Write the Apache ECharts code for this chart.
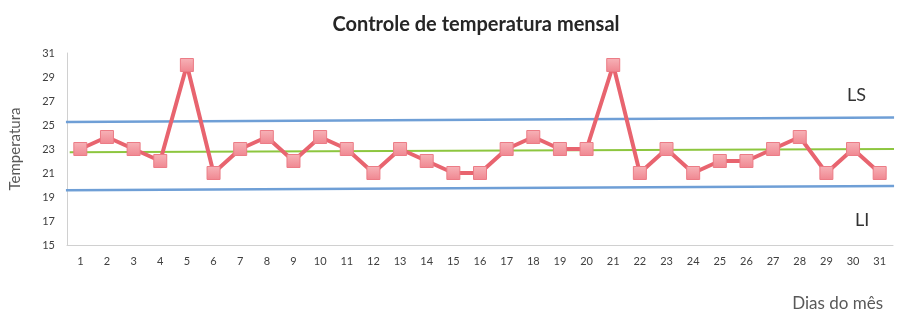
<!DOCTYPE html>
<html>
<head>
<meta charset="utf-8">
<script src="https://cdn.jsdelivr.net/npm/echarts@6/dist/echarts.min.js"></script>
<style>
  html, body { margin: 0; padding: 0; background: #fff; }
  #chart { width: 914px; height: 327px; }
</style>
</head>
<body>
<div id="chart"></div>
<script>
// Dias do mês
const dias = ['1','2','3','4','5','6','7','8','9','10','11','12','13','14','15','16',
  '17','18','19','20','21','22','23','24','25','26','27','28','29','30','31'];
// Temperatura diária
const temperaturas = [23,24,23,22,30,21,23,24,22,24,23,21,23,22,21,21,
  23,24,23,23,30,21,23,21,22,22,23,24,21,23,21];
// Limite superior (LS), média e limite inferior (LI): [dia, valor] nas pontas
const limiteSuperior = [[0.46, 25.26], [31.54, 25.62]];
const media = [[0.6, 22.72], [31.76, 23.0]];
const limiteInferior = [[0.46, 19.56], [31.54, 19.92]];
// Escala do eixo vertical
const yMin = 15, yMax = 31, yPasso = 2;

const chart = echarts.init(document.getElementById('chart'), null, { renderer: 'canvas' });
const font = 'Lato, "Open Sans", sans-serif';

const limiteSerie = (data, color, width) => ({
  type: 'line',
  xAxisIndex: 1,
  data: data,
  symbol: 'none',
  clip: false,
  silent: true,
  z: 1,
  lineStyle: { color: color, width: width }
});

chart.setOption({
  animation: false,
  title: {
    text: 'Controle de temperatura mensal',
    left: 471, top: 10, textAlign: 'center',
    textStyle: { fontFamily: font, fontSize: 20, fontWeight: 'bold', color: '#262626' }
  },
  grid: { left: 63, right: 21, top: 53, bottom: 82 },
  xAxis: [{
    type: 'category',
    data: dias,
    axisLine: { lineStyle: { color: '#d0d0d0', width: 1 } },
    axisTick: { show: false },
    axisLabel: { color: '#404040', fontFamily: font, fontSize: 11, margin: 11 },
    name: 'Dias do mês',
    nameLocation: 'end',
    nameGap: 0,
    nameTextStyle: { fontFamily: font, fontSize: 17, color: '#595959',
      align: 'right', verticalAlign: 'top', padding: [50, 10, 0, 0] }
  }, {
    type: 'value',
    min: 0.5, max: 31.5,
    show: false
  }],
  yAxis: {
    type: 'value',
    min: yMin, max: yMax, interval: yPasso,
    axisLine: { show: true, lineStyle: { color: '#d0d0d0', width: 1 } },
    axisTick: { show: false },
    splitLine: { show: false },
    axisLabel: { color: '#404040', fontFamily: font, fontSize: 11, margin: 12 },
    name: 'Temperatura',
    nameLocation: 'middle',
    nameRotate: 90,
    nameGap: 44,
    nameTextStyle: { fontFamily: font, fontSize: 15, color: '#595959' }
  },
  series: [
    limiteSerie(limiteSuperior, '#6f9fd6', 2.5),
    limiteSerie(limiteInferior, '#6f9fd6', 2.5),
    limiteSerie(media, '#8dc63f', 2),
    {
      type: 'line',
      data: temperaturas,
      z: 3,
      symbol: 'rect',
      symbolSize: 13,
      lineStyle: { color: '#e8646f', width: 4 },
      itemStyle: {
        color: new echarts.graphic.LinearGradient(0, 0, 0, 1, [
          { offset: 0, color: '#f7b3b8' },
          { offset: 1, color: '#f08690' }
        ]),
        borderColor: '#ec7c86',
        borderWidth: 1
      }
    }
  ],
  graphic: [
    { type: 'text', left: 847, top: 86,
      style: { text: 'LS', font: '18px ' + font, fill: '#333' } },
    { type: 'text', left: 855, top: 211,
      style: { text: 'LI', font: '18px ' + font, fill: '#333' } }
  ]
});
</script>
</body>
</html>
